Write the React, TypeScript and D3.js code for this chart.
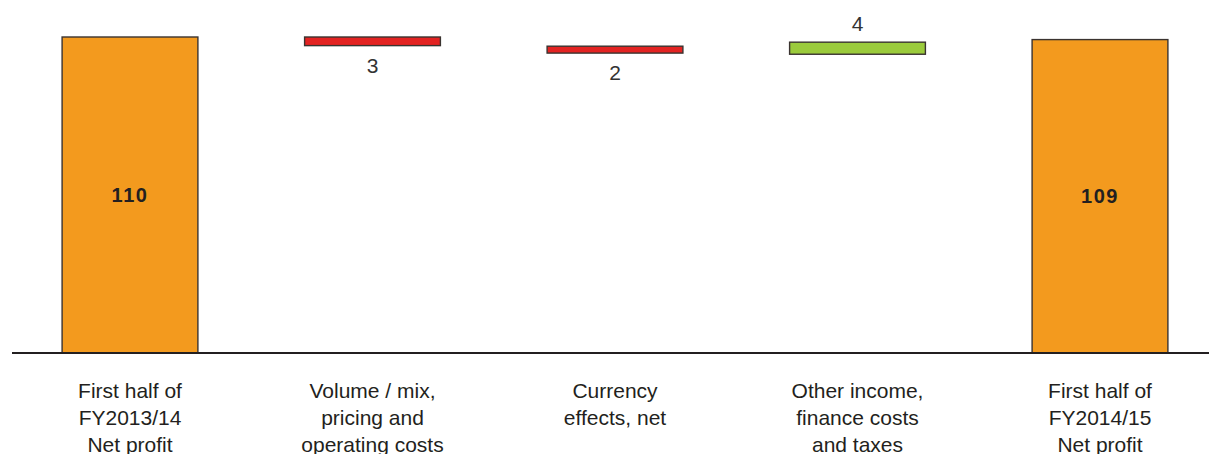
import React from 'react';
import * as d3 from 'd3';

// categories along the x axis (multi-line)
const categories: string[][] = [
    ['First half of', 'FY2013/14', 'Net profit'],
    ['Volume / mix,', 'pricing and', 'operating costs'],
    ['Currency', 'effects, net'],
    ['Other income,', 'finance costs', 'and taxes'],
    ['First half of', 'FY2014/15', 'Net profit'],
];

// bar extents (EUR m)
const barFrom = [0, 110, 106.8, 104.0, 0];
const barTo = [110, 107, 104.4, 108.2, 109.1];
const valueLabels = ['110', '3', '2', '4', '109'];
const kinds = ['total', 'neg', 'neg', 'pos', 'total'];

const W = 1209;
const H = 454;
const baseY = 353;

const colors: Record<string, string> = {
    total: '#f39a1e',
    neg: '#e32322',
    pos: '#9bcb3c',
};

export default function App() {
    const x = d3.scaleBand<number>()
        .domain(d3.range(categories.length))
        .range([8.75, 1221.25])
        .paddingInner(0.44)
        .paddingOuter(0.22);

    const y = d3.scaleLinear().domain([0, 110]).range([baseY, 37]);

    const font = "'Liberation Sans', Arial, sans-serif";

    return (
        <svg width={W} height={H} style={{ position: 'absolute', left: 0, top: 0, background: '#fff' }}>
            {categories.map((_, i) => {
                const top = y(Math.max(barFrom[i], barTo[i]));
                const bottom = y(Math.min(barFrom[i], barTo[i]));
                const bx = x(i)!;
                const cx = bx + x.bandwidth() / 2;
                const kind = kinds[i];
                return (
                    <g key={i}>
                        <rect
                            x={bx}
                            y={top}
                            width={x.bandwidth()}
                            height={bottom - top}
                            fill={colors[kind]}
                            stroke="#3a3330"
                            strokeWidth={1.4}
                        />
                        {kind === 'total' ? (
                            <text x={cx} y={(top + bottom) / 2 + 7} textAnchor="middle"
                                fontFamily={font} fontWeight="bold" fontSize={20} letterSpacing={1.5} fill="#231f20">
                                {valueLabels[i]}
                            </text>
                        ) : kind === 'neg' ? (
                            <text x={cx} y={bottom + 27} textAnchor="middle"
                                fontFamily={font} fontSize={21} fill="#333">
                                {valueLabels[i]}
                            </text>
                        ) : (
                            <text x={cx} y={top - 11} textAnchor="middle"
                                fontFamily={font} fontSize={21} fill="#333">
                                {valueLabels[i]}
                            </text>
                        )}
                    </g>
                );
            })}
            <line x1={12} x2={W} y1={baseY} y2={baseY} stroke="#231f20" strokeWidth={2} />
            {categories.map((lines, i) => {
                const cx = x(i)! + x.bandwidth() / 2;
                return (
                    <text key={i} textAnchor="middle" fontFamily={font} fontSize={21} fill="#231f20">
                        {lines.map((l, j) => (
                            <tspan key={j} x={cx} y={398 + j * 27}>{l}</tspan>
                        ))}
                    </text>
                );
            })}
        </svg>
    );
}
